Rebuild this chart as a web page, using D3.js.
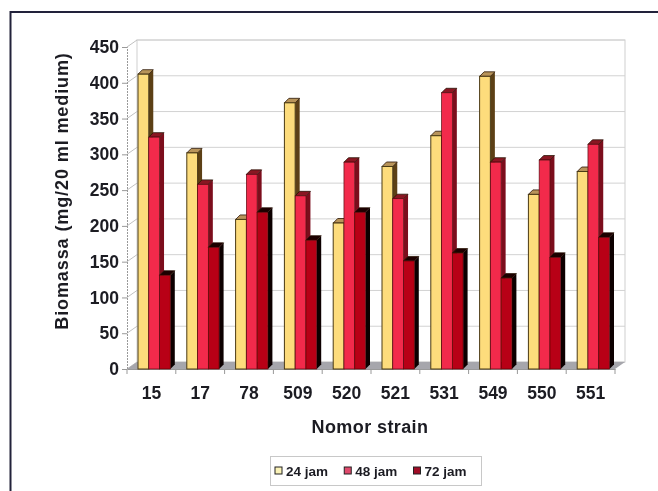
<!DOCTYPE html>
<html><head><meta charset="utf-8">
<script src="https://cdn.jsdelivr.net/npm/d3@7"></script>
<style>html,body{margin:0;padding:0;background:#fff}svg{display:block}
text{font-family:"Liberation Sans",Arial,sans-serif;font-weight:bold;fill:#1c1c24}</style>
</head><body><svg id="c" width="658" height="491"></svg>
<script>
const categories=["15","17","78","509","520","521","531","549","550","551"];
const seriesNames=["24 jam","48 jam","72 jam"];
const jam24=[412,302,209,372,204,283,326,409,244,276];
const jam48=[324,258,272,242,289,238,386,289,292,314];
const jam72=[131,170,219,180,219,151,162,127,156,184];
const seriesValues=[jam24,jam48,jam72];
const yTicks=[0,50,100,150,200,250,300,350,400,450];
const frontColors=["#fddc7c","#f22c4c","#b80412"];
const sideColors=["#5c3f12","#7c0c1c","#0c0001"];
const topColors=["#b8945a","#8a1424","#1c0204"];
const legendColors=["#fbf3b8","#e0486c","#a00828"];

const svg=d3.select("#c");
const defs=svg.append("defs");
defs.append("filter").attr("id","soft").attr("x","-5%").attr("y","-5%").attr("width","110%").attr("height","110%")
  .append("feGaussianBlur").attr("stdDeviation",0.5);
const root=svg.append("g").attr("filter","url(#soft)");

const depthX=10,depthY=-7;
const L=127,R=615,B=369,T=47;
const y=d3.scaleLinear().domain([0,450]).range([B,T]);
const x=d3.scaleBand().domain(categories).range([L,R]);
const sub=d3.scaleBand().domain(d3.range(3)).range([11,43.3]);

// frame
root.append("path").attr("d","M10.5,491V12H658").attr("fill","none").attr("stroke","#23233a").attr("stroke-width",2);

// back wall + gridlines
root.append("rect").attr("x",L+depthX).attr("y",T+depthY).attr("width",R-L).attr("height",B-T)
  .attr("fill","#fff").attr("stroke","#cfcfcf").attr("stroke-width",1);
root.append("g").selectAll("line").data(yTicks).join("line")
  .attr("x1",L+depthX).attr("x2",R+depthX)
  .attr("y1",d=>y(d)+depthY).attr("y2",d=>y(d)+depthY)
  .attr("stroke","#d2d2d2").attr("stroke-width",1);
// side wall diagonals
root.append("g").selectAll("line").data(yTicks).join("line")
  .attr("x1",L).attr("x2",L+depthX)
  .attr("y1",d=>y(d)).attr("y2",d=>y(d)+depthY)
  .attr("stroke","#c0c0c0").attr("stroke-width",1);
// floor
root.append("path")
  .attr("d",`M${L},${B}L${L+depthX},${B+depthY}H${R+depthX}L${R},${B}Z`)
  .attr("fill","#a6a6ac");

// axes
const font='"Liberation Sans",Arial,sans-serif';
const yAxis=d3.axisLeft(y).tickValues(yTicks).tickSize(5).tickPadding(3);
const gy=root.append("g").attr("transform",`translate(${L},0)`).call(yAxis);
gy.selectAll("text").style("font-size","17.5px").style("font-family",font);
gy.selectAll("line").attr("stroke","#999");
gy.select(".domain").attr("stroke","#999").attr("stroke-dasharray","2 1");

const xAxis=d3.axisBottom(x).tickSize(0).tickPadding(18);
const gx=root.append("g").attr("transform",`translate(0,${B})`).call(xAxis);
gx.selectAll("text").style("font-size","17.5px").style("font-family",font);
gx.select(".domain").attr("stroke","#999");
root.append("g").selectAll("line").data(categories.map(c=>x(c)).concat([R])).join("line")
  .attr("x1",d=>d).attr("x2",d=>d).attr("y1",B).attr("y2",B+5).attr("stroke","#999");

// bars
const grp=root.append("g").selectAll("g").data(categories).join("g")
  .attr("transform",d=>`translate(${x(d)},0)`);
const dx=4.5,dy=-4.5;
grp.each(function(c,ci){
  const g=d3.select(this);
  [0,1,2].forEach(s=>{
    const v=seriesValues[s][ci],x0=sub(s),w=sub.bandwidth(),top=y(v);
    g.append("path").attr("d",`M${x0+w},${top}l${dx},${dy}V${B+dy}l${-dx},${-dy}Z`).attr("fill",sideColors[s]);
    g.append("path").attr("d",`M${x0},${top}l${dx},${dy}h${w}l${-dx},${-dy}Z`).attr("fill",topColors[s]).attr("stroke","#2a1406").attr("stroke-width",.8);
    g.append("rect").attr("x",x0).attr("y",top).attr("width",w).attr("height",B-top)
      .attr("fill",frontColors[s]).attr("stroke",s==0?"#4a3a14":"#5a0a10").attr("stroke-width",s==0?1:.7);
  });
});

// titles
root.append("text").attr("x",370).attr("y",433).attr("text-anchor","middle").style("font-size","18px").style("letter-spacing","0.4px").text("Nomor strain");
root.append("text").attr("transform","translate(68,191) rotate(-90)").attr("text-anchor","middle").style("font-size","18px").style("letter-spacing","0.9px").text("Biomassa (mg/20 ml medium)");

// legend
const leg=root.append("g");
leg.append("rect").attr("x",270.5).attr("y",456.5).attr("width",211).attr("height",29).attr("fill","#fff").attr("stroke","#c8c8c8");
const legX=d3.scalePoint().domain(seriesNames).range([275,413.5]);
const li=leg.selectAll("g").data(seriesNames).join("g").attr("transform",d=>`translate(${legX(d)},0)`);
li.append("rect").attr("y",467).attr("width",7).attr("height",7).attr("fill",(d,i)=>legendColors[i]).attr("stroke","#222");
li.append("text").attr("x",11).attr("y",475.5).style("font-size","13.5px").text(d=>d);
</script></body></html>
